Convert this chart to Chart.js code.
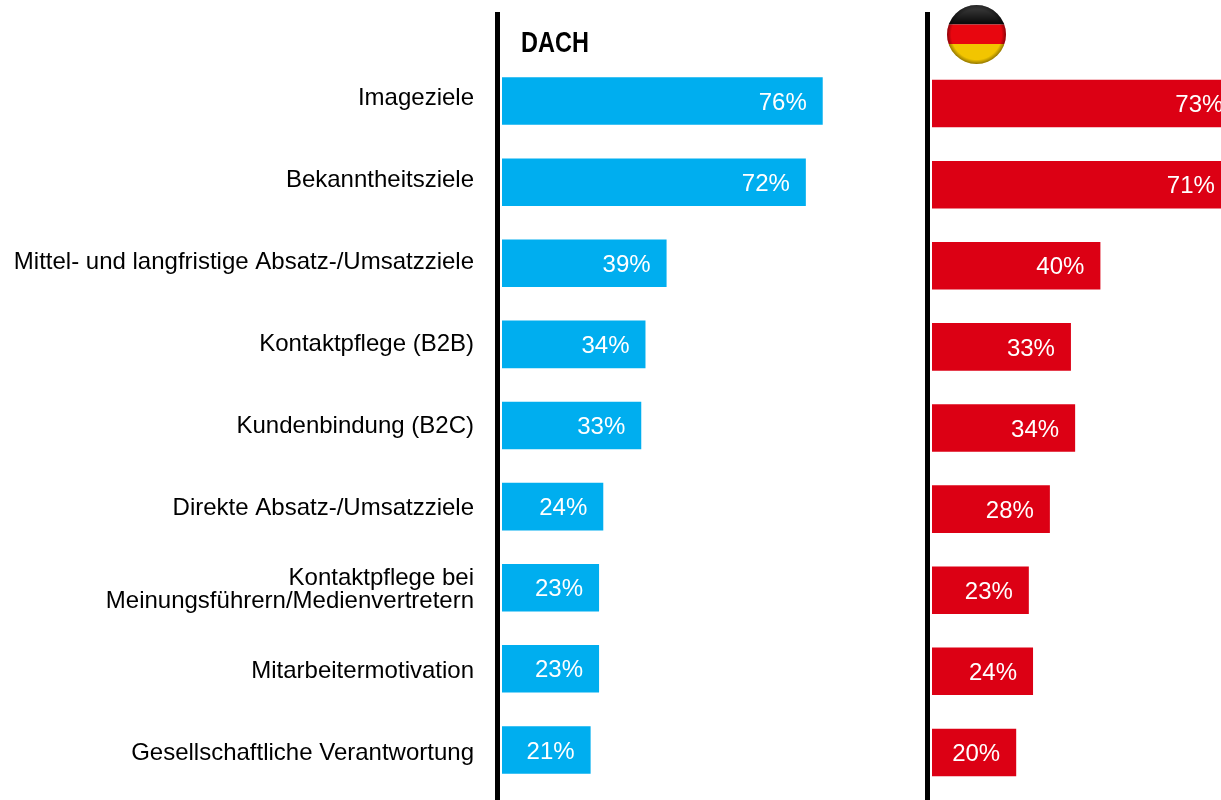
<!DOCTYPE html>
<html lang="de"><head><meta charset="utf-8">
<script src="https://cdn.jsdelivr.net/npm/chart.js@4/dist/chart.umd.min.js"></script>
<style>
html,body{margin:0;padding:0;background:#fff;width:1221px;height:800px;overflow:hidden}
canvas{position:absolute;top:0}
#labels{left:0}
#dach{left:0}
#de{left:900px}
</style></head><body>
<canvas id="dach" width="924" height="800"></canvas>
<canvas id="labels" width="503" height="800"></canvas>
<canvas id="de" width="453" height="800"></canvas>
<script>
const categories = ["Imageziele","Bekanntheitsziele","Mittel- und langfristige Absatz-/Umsatzziele","Kontaktpflege (B2B)","Kundenbindung (B2C)","Direkte Absatz-/Umsatzziele",["Kontaktpflege bei","Meinungsführern/Medienvertretern"],"Mitarbeitermotivation","Gesellschaftliche Verantwortung"];
const dachValues = [76,72,39,34,33,24,23,23,21];
const germanyValues = [73,71,40,33,34,28,23,24,20];
const dachColor = "#00AEEF";
const germanyColor = "#DC0014";
const panelTitle = "DACH";

const barLabels = {
  id:"barLabels",
  afterDatasetsDraw(chart){
    const c = chart.ctx, meta = chart.getDatasetMeta(0), values = chart.data.datasets[0].data;
    c.save();
    c.font = "24px 'Liberation Sans'";
    c.fillStyle = "#fff";
    c.textAlign = "right";
    c.textBaseline = "middle";
    meta.data.forEach((bar,i)=>c.fillText(values[i]+"%", bar.x-16, bar.y+2));
    c.restore();
  }
};
const divider = {
  id:"divider",
  afterDraw(chart,args,opts){
    const c = chart.ctx;
    c.save();
    c.fillStyle = "#000";
    c.fillRect(chart.chartArea.left-7, 12, 5, 788);
    c.restore();
    if(opts.title){
      c.save();
      c.font = "bold 29px 'Liberation Sans'";
      c.fillStyle = "#000";
      c.textBaseline = "alphabetic";
      c.translate(chart.chartArea.left+19, 52);
      c.scale(0.81,1);
      c.fillText(opts.title, 0, 0);
      c.restore();
    }
    if(opts.flag){
      const cx = chart.chartArea.left+44.5, cy = 34.5, r = 29.5;
      c.save();
      c.beginPath(); c.arc(cx,cy,r,0,Math.PI*2); c.clip();
      c.fillStyle="#0c0c0c"; c.fillRect(cx-r,cy-r,2*r,19.5);
      c.fillStyle="#E8060F"; c.fillRect(cx-r,cy-r+19.5,2*r,19.5);
      c.fillStyle="#F2C500"; c.fillRect(cx-r,cy-r+39,2*r,20);
      const top = c.createLinearGradient(0,cy-r,0,cy-r+18);
      top.addColorStop(0,"rgba(255,255,255,0.22)");
      top.addColorStop(1,"rgba(255,255,255,0)");
      c.fillStyle=top; c.fillRect(cx-r,cy-r,2*r,19);
      const g = c.createRadialGradient(cx,cy,r*0.85,cx,cy,r);
      g.addColorStop(0,"rgba(0,0,0,0)");
      g.addColorStop(1,"rgba(0,0,0,0.4)");
      c.fillStyle=g; c.fillRect(cx-r,cy-r,2*r,2*r);
      c.restore();
    }
  }
};
function makeChart(id,values,color,axisWidth,top,bottom,dividerOpts){
  return new Chart(document.getElementById(id),{
    type:"bar",
    data:{labels:categories,datasets:[{data:values,backgroundColor:color,borderWidth:0,barPercentage:0.586,categoryPercentage:1}]},
    options:{
      indexAxis:"y",responsive:false,animation:false,
      layout:{padding:{top:top,bottom:bottom,left:0,right:0}},
      plugins:{legend:{display:false},tooltip:{enabled:false},divider:dividerOpts},
      scales:{
        x:{display:false,min:0,max:100},
        y:{
          afterFit(s){s.width=axisWidth;s.paddingTop=0;s.paddingBottom=0;},
          grid:{display:false,drawTicks:false},border:{display:false},
          ticks:{display:false}
        }
      }
    },
    plugins:[barLabels,divider]
  });
}
makeChart("dach",dachValues,dachColor,502,60.5,9.5,{title:panelTitle});
makeChart("de",germanyValues,germanyColor,32,63,7,{flag:true});
new Chart(document.getElementById("labels"),{
  type:"bar",
  data:{labels:categories,datasets:[]},
  options:{
    indexAxis:"y",responsive:false,animation:false,
    layout:{padding:{top:57.5,bottom:5.5,left:0,right:0}},
    plugins:{legend:{display:false},tooltip:{enabled:false}},
    scales:{
      x:{display:false,min:0,max:100},
      y:{
        afterFit(s){s.width=502;s.paddingTop=0;s.paddingBottom=0;},
        grid:{display:false,drawTicks:false},border:{display:false},
        ticks:{color:"#000",padding:28,autoSkip:false,
               font:{family:"'Liberation Sans'",size:24,lineHeight:0.96}}
      }
    }
  }
});
</script>
</body></html>
